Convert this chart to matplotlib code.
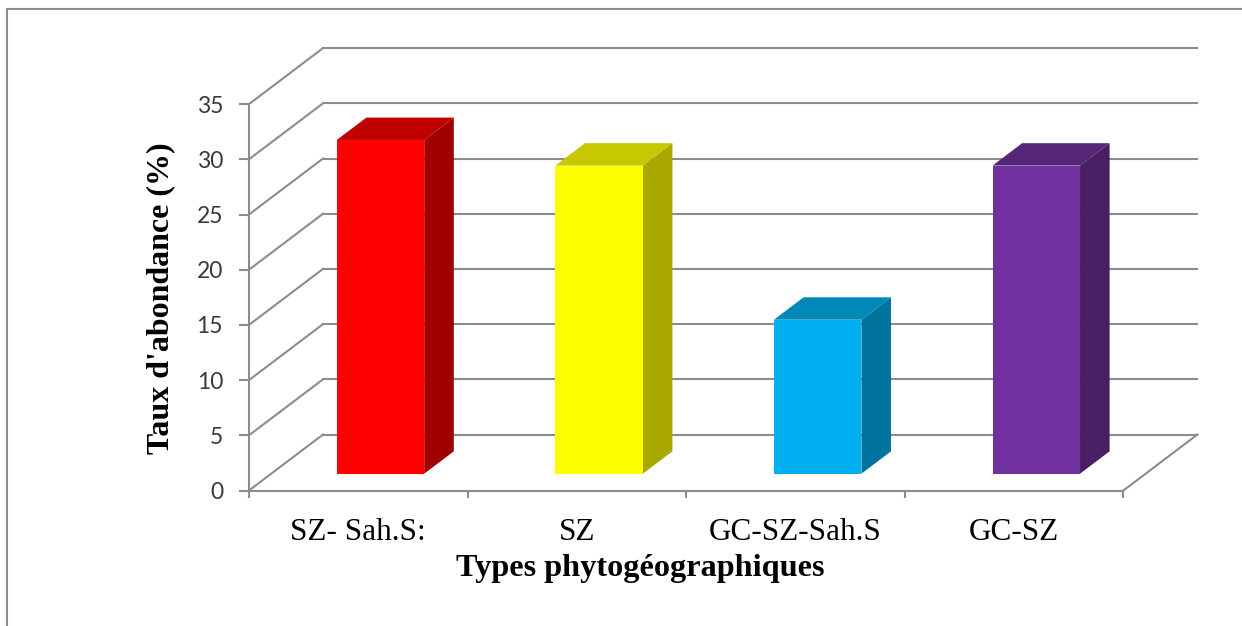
import matplotlib.pyplot as plt
import numpy as np
from matplotlib.patches import Polygon, Rectangle

# données : taux d'abondance par type phytogéographique
types = ['SZ- Sah.S:', 'SZ', 'GC-SZ-Sah.S', 'GC-SZ']
taux = [30.23, 27.91, 13.95, 27.91]
graduations = [0, 5, 10, 15, 20, 25, 30, 35]

# couleurs des faces : avant, dessus, côté
face_avant = ['#FF0000', '#FFFF00', '#00B0F0', '#7030A0']
face_dessus = ['#C00000', '#C8C800', '#0088B8', '#552577']
face_cote = ['#A00000', '#A8A800', '#00749E', '#4A1E63']

W, H = 1242, 626
gris = '#8c8c8c'

# décalage oblique de la profondeur (en unités des axes)
DX, DY = 0.3385, 5.07
def proj(x, v, d):
    return (x + d * DX, v + d * DY)

fig = plt.figure(figsize=(W / 100, H / 100), dpi=100)
x0, y0 = 249, 490.5
ax = fig.add_axes([x0 / W, (H - y0) / H, (1215 - x0) / W, (y0 - 30) / H])
ax.set_xlim(0, (1215 - x0) / 218.6)
ax.set_ylim(0, (y0 - 30) / 11.04)
ax.patch.set_visible(False)

n = len(types)
# mur du fond et paroi gauche
for v in graduations:
    ax.plot([0, DX], [v, v + DY], color=gris, lw=1.5, zorder=1)
    ax.plot([DX, n + DX], [v + DY, v + DY], color=gris, lw=1.5, zorder=1)
# plancher, bord droit
ax.plot([n, n + DX], [0, DY], color=gris, lw=1.5, zorder=1)

# barres 3D
for i, val in enumerate(taux):
    xa, xb = i + 0.3, i + 0.7
    d0, d1 = 0.3, 0.7
    avant = [proj(xa, 0, d0), proj(xb, 0, d0), proj(xb, val, d0), proj(xa, val, d0)]
    dessus = [proj(xa, val, d0), proj(xb, val, d0), proj(xb, val, d1), proj(xa, val, d1)]
    cote = [proj(xb, 0, d0), proj(xb, 0, d1), proj(xb, val, d1), proj(xb, val, d0)]
    ax.add_patch(Polygon(cote, closed=True, fc=face_cote[i], ec='none', zorder=3))
    ax.add_patch(Polygon(dessus, closed=True, fc=face_dessus[i], ec='none', zorder=3))
    ax.add_patch(Polygon(avant, closed=True, fc=face_avant[i], ec='none', zorder=4))

for s in ['top', 'right']:
    ax.spines[s].set_visible(False)
ax.spines['left'].set_bounds(0, 35)
ax.spines['bottom'].set_bounds(0, n)
for s in ['left', 'bottom']:
    ax.spines[s].set_color(gris)
    ax.spines[s].set_linewidth(1.5)

ax.set_yticks(graduations)
ax.set_yticklabels([str(g) for g in graduations], fontfamily='Lato', fontsize=16.5, color='#3a3a3a')
ax.tick_params(axis='y', length=7.2, width=1.5, color=gris, pad=11.5)

ax.set_xticks(np.arange(n + 1))
ax.set_xticklabels([])
ax.tick_params(axis='x', which='major', length=5, width=1.5, color=gris)
ax.set_xticks(np.arange(n) + 0.5, minor=True)
ax.set_xticklabels(types, minor=True, fontfamily='Liberation Serif', fontsize=22.5, color='black')
ax.tick_params(axis='x', which='minor', length=0, pad=20)

fig.text(640 / W, (H - 576) / H, 'Types phytogéographiques', ha='center', va='baseline',
         fontfamily='Liberation Serif', fontweight='bold', fontsize=23.2)
fig.text(161 / W, (H - 298) / H, "Taux d'abondance (%)", ha='center', va='center', rotation=90,
         fontfamily='Liberation Serif', fontweight='bold', fontsize=23)

# cadre du graphique
fig.add_artist(Rectangle((7 / W, -0.1), 1.2, 1 - 9 / H + 0.1, transform=fig.transFigure,
                         fill=False, ec='#8c8c8c', lw=1.5))

fig.savefig('out.png', dpi=100)
